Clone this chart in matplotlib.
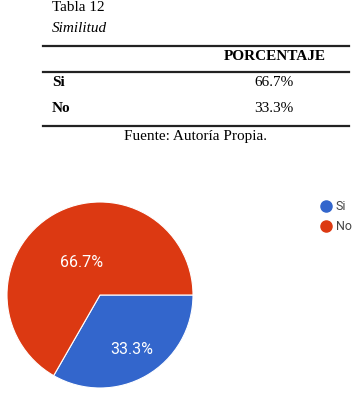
import numpy as np
import matplotlib.pyplot as plt
from matplotlib.lines import Line2D

# table data
row_labels = ["Si", "No"]
table_values = ["66.7%", "33.3%"]

# pie data (as shown in the chart)
pie_labels = ["Si", "No"]
pie_values = [33.3, 66.7]
pie_colors = ["#3366CC", "#DC3912"]

W, H = 363, 397
fig = plt.figure(figsize=(W / 100, H / 100), dpi=100)


def fx(x):
    return x / W


def fy(y):
    return 1 - y / H


serif = "Liberation Serif"
fs = 11

# table header texts
fig.text(fx(52), fy(1), "Tabla 12", family=serif, fontsize=fs, va="top")
fig.text(fx(52), fy(29), "Similitud", family=serif, fontsize=fs,
         style="italic", va="center")

for y in [45.5, 72, 126]:
    fig.add_artist(Line2D([fx(43), fx(349)], [fy(y), fy(y)], color="#222222",
                          lw=1.6, transform=fig.transFigure))

fig.text(fx(275), fy(57), "PORCENTAJE", family=serif, fontsize=fs,
         weight="bold", ha="center", va="center")
for i, (lab, val) in enumerate(zip(row_labels, table_values)):
    y = 83 + i * 25
    fig.text(fx(52), fy(y), lab, family=serif, fontsize=fs, weight="bold",
             va="center")
    fig.text(fx(274), fy(y), val, family=serif, fontsize=fs,
             ha="center", va="center")

fig.text(fx(196), fy(137), "Fuente: Autoría Propia.", family=serif,
         fontsize=fs, ha="center", va="center")

# pie chart
cx, cy, r = 100, 295, 93
ax = fig.add_axes([fx(cx - r), fy(cy + r), 2 * r / W, 2 * r / H])
wedges, _ = ax.pie(pie_values, colors=pie_colors, startangle=0,
                   counterclock=False, radius=1,
                   wedgeprops=dict(edgecolor="white", linewidth=0.8))
ax.set_xlim(-1, 1)
ax.set_ylim(-1, 1)
ax.set_aspect("equal")
ax.axis("off")

label_dist = [0.68, 0.40]
for w, v, d in zip(wedges, pie_values, label_dist):
    ang = np.deg2rad((w.theta1 + w.theta2) / 2)
    ax.text(d * np.cos(ang), d * np.sin(ang), f"{v}%", color="white",
            fontsize=11.5, family="Roboto", ha="center", va="center")

handles = [Line2D([], [], marker="o", ls="", markersize=8,
                  markerfacecolor=c, markeredgecolor=c) for c in pie_colors]
fig.legend(handles, pie_labels, loc="upper left",
           bbox_to_anchor=(fx(321), fy(200)), frameon=False,
           prop=dict(family="Roboto", size=9), labelcolor="#444444",
           handlelength=0.8, handletextpad=0.4, labelspacing=0.6,
           borderpad=0, borderaxespad=0)

fig.savefig("out.png", dpi=100)
